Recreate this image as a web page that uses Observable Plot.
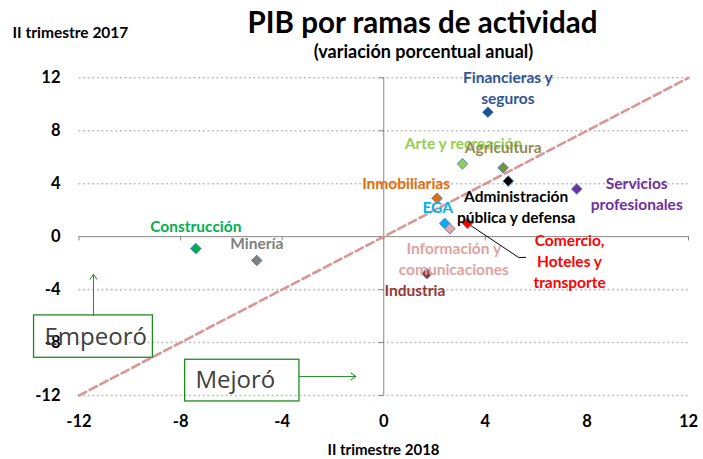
<!DOCTYPE html>
<html>
<head>
<meta charset="utf-8">
<script src="https://cdn.jsdelivr.net/npm/d3@7"></script>
<script src="https://cdn.jsdelivr.net/npm/@observablehq/plot@0.6"></script>
<style>
  html, body { margin: 0; padding: 0; background: #fff; }
  #chart svg { display: block; }
</style>
</head>
<body>
<div id="chart"></div>
<script>
// ---- data ----
const sectors = ["Financieras y seguros", "Arte y recreación", "Agricultura", "Administración pública y defensa",
  "Servicios profesionales", "Inmobiliarias", "EGA", "Información y comunicaciones",
  "Comercio, Hoteles y transporte", "Industria", "Construcción", "Minería"];
const labels = ["Financieras y\nseguros", "Arte y recreación", "Agricultura", "Administración\npública y defensa",
  "Servicios\nprofesionales", "Inmobiliarias", "EGA", "Información y\ncomunicaciones",
  "Comercio,\nHoteles y\ntransporte", "Industria", "Construcción", "Minería"];
const q2_2018 = [4.1, 3.1, 4.7, 4.9, 7.6, 2.1, 2.4, 2.6, 3.3, 1.7, -7.4, -5.0];
const q2_2017 = [9.4, 5.5, 5.2, 4.2, 3.6, 2.9, 1.0, 0.6, 1.0, -2.8, -0.9, -1.8];
const xTicks = [-12, -8, -4, 0, 4, 8, 12];
const yTicks = [-12, -8, -4, 0, 4, 8, 12];
const gridY = [-12, -8, -4, 4, 8, 12];

// ---- styles / layout ----
const markerFill = ["#1F4E8C", "#92D050", "#77933C", "#000000", "#7030A0", "#E46C0A", "#00B0F0", "#E6A5A4", "#FF0000", "#953735", "#00B050", "#7F7F7F"];
const labelFill  = ["#2F5597", "#92D050", "#948A54", "#000000", "#7030A0", "#E46C0A", "#00B0F0", "#E0A3A2", "#FF0000", "#953735", "#00B050", "#808080"];
const labelOffset = [[20, -25], [1, -22], [0, -22], [8, 25], [60, 4], [-31, -16], [-7, -17], [4, 29], [102, 37], [-12, 16], [0, -23], [0, -18]];

const ML = 78.5, MT = 77.3, MR = 15, MB = 64, W = 703, H = 459;
const FONT = "Lato, 'Open Sans', sans-serif";
const GREEN = "#1E8C1E";

const data = sectors.map((s, i) => ({ s, x: q2_2018[i], y: q2_2017[i], i }));

const note = (txt, px, py, opts = {}) => Plot.text([txt], {
  text: d => d, frameAnchor: "top-left", dx: px - ML, dy: py - MT,
  textAnchor: "middle", lineAnchor: "middle", ...opts
});

const chart = Plot.plot({
  width: W, height: H,
  marginLeft: ML, marginTop: MT, marginRight: MR, marginBottom: MB,
  style: { fontFamily: FONT, background: "#fff", overflow: "visible" },
  x: { domain: [-12, 12], axis: null },
  y: { domain: [-12, 12], axis: null },
  marks: [
    // dotted gridlines
    Plot.ruleY(gridY, { x1: -12, x2: 12, stroke: "#BFBFBF", strokeWidth: 1.6, strokeDasharray: "2,2.6" }),
    // axis lines through origin
    Plot.ruleY([0], { x1: -12, x2: 12, stroke: "#868686", strokeWidth: 1 }),
    Plot.ruleX([0], { y1: -12, y2: 12, stroke: "#868686", strokeWidth: 1 }),
    // tick marks
    Plot.ruleX(xTicks, { x: d => d, y1: 0, y2: -0.32, stroke: "#868686", strokeWidth: 1 }),
    Plot.ruleY(yTicks, { y: d => d, x1: 0, x2: -0.17, stroke: "#868686", strokeWidth: 1 }),
    // tick labels
    Plot.text(xTicks, { x: d => d, text: d => String(d), frameAnchor: "bottom", dy: 26.5, lineAnchor: "middle", fontSize: 16.5, fontWeight: "bold", fill: "#000" }),
    Plot.text(yTicks, { y: d => d, text: d => String(d), frameAnchor: "left", dx: -18.5, textAnchor: "end", fontSize: 16.5, fontWeight: "bold", fill: "#000" }),
    // 45-degree reference line
    Plot.line([[-12, -12], [12, 12]], { x: d => d[0], y: d => d[1], stroke: "#D99694", strokeWidth: 2.6, strokeDasharray: "8,4" }),
    // annotation boxes and arrows
    Plot.rect([0], { x1: -13.77, x2: -9.09, y1: -5.95, y2: -9.15, fill: "none", stroke: GREEN, strokeWidth: 1.3 }),
    Plot.arrow([0], { x1: -11.43, y1: -5.95, x2: -11.43, y2: -2.85, stroke: GREEN, strokeWidth: 1, headLength: 9, headAngle: 70 }),
    Plot.rect([0], { x1: -7.82, x2: -3.32, y1: -9.30, y2: -12.45, fill: "none", stroke: GREEN, strokeWidth: 1.3 }),
    Plot.arrow([0], { x1: -3.32, y1: -10.56, x2: -1.10, y2: -10.56, stroke: GREEN, strokeWidth: 1, headLength: 9, headAngle: 70 }),
    note("Empeoró", 44, 337, { textAnchor: "start", fontSize: 24, fill: "#404040", fontFamily: "'Open Sans', sans-serif" }),
    note("Mejoró", 195, 380, { textAnchor: "start", fontSize: 24, fill: "#404040", fontFamily: "'Open Sans', sans-serif" }),
    // connector for Comercio
    Plot.line([[3.32, 0.97], [5.31, -1.57], [5.59, -1.57]], { x: d => d[0], y: d => d[1], stroke: "#000", strokeWidth: 1 }),
    // points
    Plot.dot(data, { x: "x", y: "y", symbol: "diamond2", r: 4.8, fill: d => markerFill[d.i], stroke: "#4F81BD", strokeWidth: 0.9 }),
    // point labels
    ...data.map(d => Plot.text([d], {
      x: "x", y: "y", text: () => labels[d.i], dx: labelOffset[d.i][0], dy: labelOffset[d.i][1],
      fill: labelFill[d.i], fontSize: 15.5, fontWeight: "bold", lineHeight: 1.355, textAnchor: "middle", lineAnchor: "middle"
    })),
    // titles
    note("PIB por ramas de actividad", 422, 23, { fontSize: 29.5, fontWeight: "bold", fill: "#000" }),
    note("(variación porcentual anual)", 423, 52, { fontSize: 18, fontWeight: "bold", fill: "#000" }),
    note("II trimestre 2017", 12, 33, { textAnchor: "start", fontSize: 15.5, fontWeight: "bold", fill: "#000" }),
    note("II trimestre 2018", 383, 450, { fontSize: 15, fontWeight: "bold", fill: "#000" })
  ]
});
document.getElementById("chart").appendChild(chart);
</script>
</body>
</html>
